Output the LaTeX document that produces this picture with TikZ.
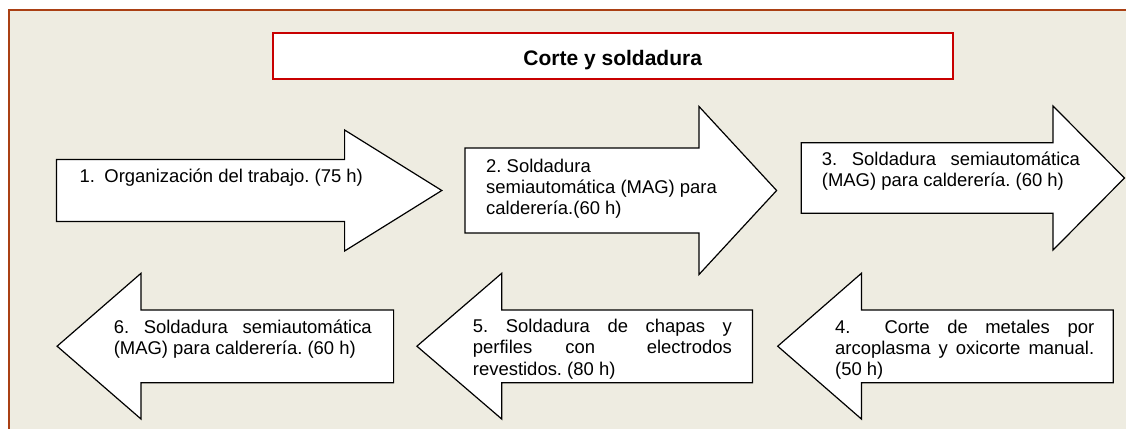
\documentclass[tikz,border=0pt]{standalone}
\usepackage{fontspec}
\setmainfont{Liberation Sans}
\frenchspacing
\definecolor{bgbeige}{RGB}{238,236,225}
\definecolor{framebrown}{RGB}{170,64,20}
\definecolor{titlered}{RGB}{200,0,0}
\tikzset{
  arrowshape/.style={draw=black, fill=white, line width=1.2pt, line join=miter},
  lbl/.style={anchor=base west, inner sep=0pt, font=\fontsize{18.45}{21.2}\selectfont\frenchspacing},
}
\begin{document}
\begin{tikzpicture}[x=1pt,y=-1pt]
\clip (0,0) rectangle (1126,428);
\fill[white] (0,0) rectangle (1126,428);
\draw[framebrown, fill=bgbeige, line width=2pt] (8.6,10) rectangle (1140,440);

% title
\node[draw=titlered, line width=2pt, fill=white, minimum width=680.3pt, minimum height=45.7pt, inner sep=0pt] (title) at (612.65,56.15) {};
\node[anchor=base, inner sep=0pt, font=\fontsize{21}{25}\selectfont\bfseries] (titletext) at (612.7,65) {Corte y soldadura};

% top row arrows (pointing right)
\path[arrowshape] (56.5,159.5) -- (344.6,159.5) -- (344.6,130) -- (441.8,190.5) -- (344.6,251) -- (344.6,221.5) -- (56.5,221.5) -- cycle;
\path[arrowshape] (465,148) -- (699,148) -- (699,106.5) -- (776.6,190.5) -- (699,274.5) -- (699,233) -- (465,233) -- cycle;
\path[arrowshape] (801.2,142.7) -- (1053,142.7) -- (1053,106) -- (1124.5,178) -- (1053,250) -- (1053,213.3) -- (801.2,213.3) -- cycle;

% bottom row arrows (pointing left)
\path[arrowshape] (393.6,310) -- (141,310) -- (141,273.3) -- (57.1,346.2) -- (141,419) -- (141,382.7) -- (393.6,382.7) -- cycle;
\path[arrowshape] (752.4,310) -- (501.7,310) -- (501.7,273.3) -- (416.9,346.2) -- (501.7,419) -- (501.7,382.7) -- (752.4,382.7) -- cycle;
\path[arrowshape] (1113.3,310) -- (861.4,310) -- (861.4,273.3) -- (777.7,346.2) -- (861.4,419) -- (861.4,382.7) -- (1113.3,382.7) -- cycle;

% texts
\node[lbl] (t1) at (79.3,182.3) {1.\hspace{9.6pt}Organización del trabajo. (75 h)};
\node[lbl] (t2) at (486,172.3) {\parbox[t]{245pt}{\raggedright 2. Soldadura\\semiautomática (MAG) para\\calderería.(60 h)}};
\node[lbl] (t3) at (821.7,165.7) {\parbox[t]{258pt}{\raggedright 3.\hfill Soldadura\hfill semiautomática\\(MAG) para calderería. (60 h)}};
\node[lbl] (t4) at (835,333) {\parbox[t]{259pt}{\raggedright 4.\hspace{34pt}Corte\hfill de\hfill metales\hfill por\\arcoplasma\hfill y\hfill oxicorte\hfill manual.\\(50 h)}};
\node[lbl] (t5) at (472.7,332.7) {\parbox[t]{259pt}{\raggedright 5.\hfill Soldadura\hfill de\hfill chapas\hfill y\\perfiles\hspace{33pt}con\hfill electrodos\\revestidos. (80 h)}};
\node[lbl] (t6) at (113.6,333) {\parbox[t]{258pt}{\raggedright 6.\hfill Soldadura\hfill semiautomática\\(MAG) para calderería. (60 h)}};
\end{tikzpicture}
\end{document}
